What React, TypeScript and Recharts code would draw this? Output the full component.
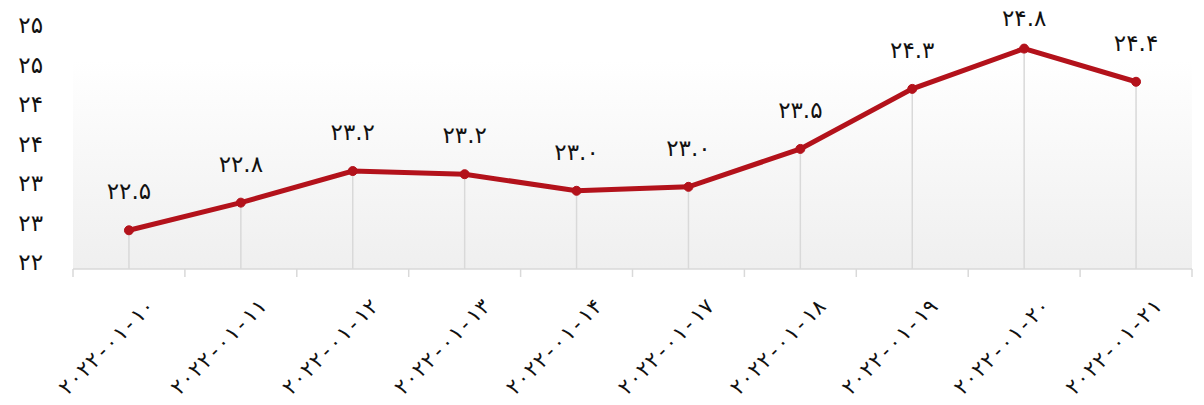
import React from 'react'
import {
  ComposedChart,
  Line,
  XAxis,
  YAxis,
  CartesianGrid,
  ReferenceLine,
  LabelList,
} from 'recharts'

const dates = [
  '2022-01-10',
  '2022-01-11',
  '2022-01-12',
  '2022-01-13',
  '2022-01-14',
  '2022-01-17',
  '2022-01-18',
  '2022-01-19',
  '2022-01-20',
  '2022-01-21',
]
const values = [22.49, 22.84, 23.24, 23.2, 22.99, 23.04, 23.52, 24.28, 24.79, 24.37]
const yTicks = [22, 22.5, 23, 23.5, 24, 24.5, 25]

const FONT = '"DejaVu Sans", sans-serif'
const MONO = '"DejaVu Sans Mono", "DejaVu Sans", monospace'
const LINE_RED = '#b3121b'
const GRID_GRAY = '#d9d9d9'

const faDigits = '۰۱۲۳۴۵۶۷۸۹'
function toFa(s: string): string {
  return s.replace(/[0-9]/g, (d) => faDigits[Number(d)])
}

const chartData = dates.map((date, i) => ({ date, value: values[i] }))

// y labels sit a bit above their tick, like the original
function YTick({ x, y, payload }: any) {
  return (
    <text x={x} y={y - 7} dy="0.35em" textAnchor="end" fontSize={23} fontFamily={FONT} fill="#111">
      {toFa(String(Math.round(payload.value)))}
    </text>
  )
}

// rotated date label + small tick marks at the band edges
function DateTick({ x, y, payload, index, visibleTicksCount }: any) {
  const half = payload.offset ?? 0
  const isLast = index === (visibleTicksCount ?? dates.length) - 1
  return (
    <g>
      <line x1={x - half} x2={x - half} y1={y} y2={y + 8} stroke={GRID_GRAY} strokeWidth={1.5} />
      {isLast && (
        <line x1={x + half} x2={x + half} y1={y} y2={y + 8} stroke={GRID_GRAY} strokeWidth={1.5} />
      )}
      <g transform={`translate(${x + 22},${y + 33})`}>
        <text
          x={0}
          y={0}
          dy="0.35em"
          textAnchor="end"
          transform="rotate(-45)"
          fontSize={21}
          fontFamily={MONO}
          fill="#111"
        >
          {toFa(payload.value)}
        </text>
      </g>
    </g>
  )
}

function ValueLabel({ x, y, value }: any) {
  const cy = Math.max(y - 39, 18)
  return (
    <text x={x} y={cy} dy="0.35em" textAnchor="middle" fontSize={23} fontFamily={FONT} fill="#111">
      {toFa(Number(value).toFixed(1))}
    </text>
  )
}

export default function App() {
  return (
    <div style={{ position: 'absolute', left: 0, top: 0, background: '#fff' }}>
      <ComposedChart
        width={1204}
        height={405}
        data={chartData}
        margin={{ top: 32, right: 12, bottom: 0, left: 0 }}
      >
        <defs>
          <linearGradient id="plotBg" x1="0" y1="0" x2="0" y2="1">
            <stop offset="0%" stopColor="#ffffff" />
            <stop offset="12%" stopColor="#ffffff" />
            <stop offset="100%" stopColor="#efefef" />
          </linearGradient>
        </defs>
        <CartesianGrid horizontal={false} vertical={false} fill="url(#plotBg)" />
        <XAxis
          dataKey="date"
          scale="band"
          interval={0}
          axisLine={{ stroke: GRID_GRAY, strokeWidth: 1.5 }}
          tickLine={false}
          tickSize={0}
          tickMargin={0}
          height={136}
          tick={<DateTick />}
        />
        <YAxis
          domain={[22, 25]}
          ticks={yTicks}
          axisLine={false}
          tickLine={false}
          tickSize={0}
          tickMargin={30}
          width={73}
          tick={<YTick />}
        />
        {chartData.map((d) => (
          <ReferenceLine
            key={d.date}
            segment={[
              { x: d.date, y: 22 },
              { x: d.date, y: d.value },
            ]}
            stroke={GRID_GRAY}
            strokeWidth={1.5}
          />
        ))}
        <Line
          dataKey="value"
          stroke={LINE_RED}
          strokeWidth={5}
          dot={{ r: 4.5, fill: LINE_RED, stroke: LINE_RED, strokeWidth: 1 }}
          activeDot={false}
          isAnimationActive={false}
        >
          <LabelList dataKey="value" content={<ValueLabel />} />
        </Line>
      </ComposedChart>
    </div>
  )
}
